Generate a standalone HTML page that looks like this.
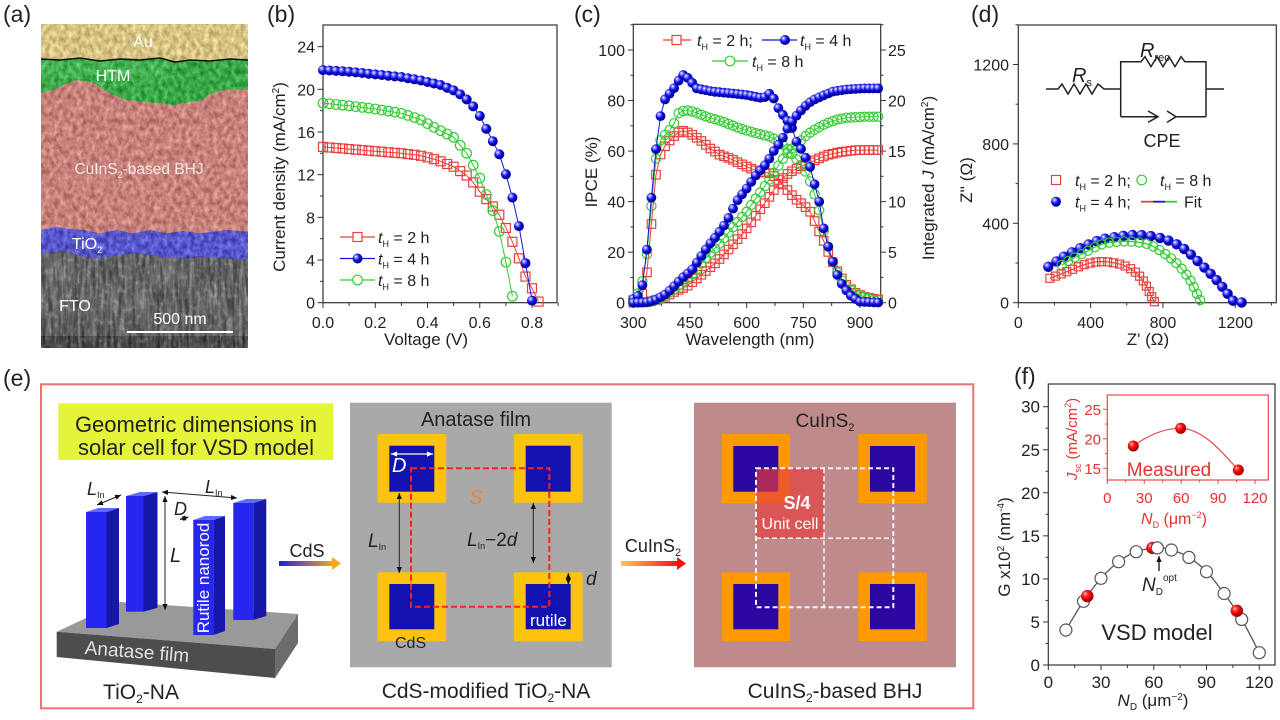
<!DOCTYPE html>
<html><head><meta charset="utf-8"><title>fig</title>
<style>
html,body{margin:0;padding:0;background:#fff;width:1280px;height:720px;overflow:hidden}
svg{display:block;font-family:"Liberation Sans",Arial,sans-serif}
</style></head><body>
<svg id="s" xmlns="http://www.w3.org/2000/svg" width="1280" height="720" viewBox="0 0 1280 720">
<defs>
<radialGradient id="gb" cx="0.4" cy="0.4" r="0.62" fx="0.33" fy="0.3">
<stop offset="0" stop-color="#ffffff"/><stop offset="0.22" stop-color="#8c8cff"/><stop offset="0.55" stop-color="#0a0ae6"/><stop offset="1" stop-color="#00007a"/>
</radialGradient>
<radialGradient id="grd" cx="0.4" cy="0.4" r="0.62" fx="0.33" fy="0.3">
<stop offset="0" stop-color="#ffd0d0"/><stop offset="0.25" stop-color="#ff4040"/><stop offset="0.6" stop-color="#e80000"/><stop offset="1" stop-color="#900000"/>
</radialGradient>
<linearGradient id="a1" x1="0" x2="1" y1="0" y2="0"><stop offset="0" stop-color="#2020e0"/><stop offset="1" stop-color="#f5a623"/></linearGradient>
<linearGradient id="a2" x1="0" x2="1" y1="0" y2="0"><stop offset="0" stop-color="#ffc84a"/><stop offset="1" stop-color="#ff1010"/></linearGradient>
<marker id="ah" viewBox="0 0 8 8" refX="8" refY="4" markerWidth="6" markerHeight="6" orient="auto-start-reverse" markerUnits="userSpaceOnUse"><path d="M0,0.5 L8,4 L0,7.5 z" fill="#111"/></marker>
<marker id="ahw" viewBox="0 0 8 8" refX="8" refY="4" markerWidth="6" markerHeight="6" orient="auto-start-reverse" markerUnits="userSpaceOnUse"><path d="M0,0.5 L8,4 L0,7.5 z" fill="#fff"/></marker>
<filter id="tex" filterUnits="userSpaceOnUse" x="41" y="24" width="207" height="324" color-interpolation-filters="sRGB">
<feTurbulence type="fractalNoise" baseFrequency="0.22 0.16" numOctaves="3" seed="7" result="n"/>
<feColorMatrix in="n" type="matrix" values="1 0 0 0 0 1 0 0 0 0 1 0 0 0 0 0 0 0 0 1" result="g"/>
<feComposite in="SourceGraphic" in2="g" operator="arithmetic" k1="0" k2="1" k3="0.45" k4="-0.22"/>
</filter>
<filter id="tex2" filterUnits="userSpaceOnUse" x="41" y="24" width="207" height="324" color-interpolation-filters="sRGB">
<feTurbulence type="fractalNoise" baseFrequency="0.28 0.035" numOctaves="3" seed="3" result="n"/>
<feColorMatrix in="n" type="matrix" values="1 0 0 0 0 1 0 0 0 0 1 0 0 0 0 0 0 0 0 1" result="g"/>
<feComposite in="SourceGraphic" in2="g" operator="arithmetic" k1="0" k2="1" k3="0.6" k4="-0.3"/>
</filter>
</defs>

<!-- panel labels -->
<g font-size="23" fill="#222">
<text x="3" y="22">(a)</text>
<text x="267" y="22">(b)</text>
<text x="574" y="22">(c)</text>
<text x="971" y="22">(d)</text>
<text x="3" y="386">(e)</text>
<text x="1014" y="384">(f)</text>
</g>

<!-- ============ (a) ============ -->
<g filter="url(#tex2)">
<rect x="41" y="24" width="207" height="324" fill="#7d7d7d"/>
<rect x="41" y="336" width="207" height="12" fill="#5a5a5a"/>
</g>
<g filter="url(#tex)">
<path d="M41,24 H248 V260 L227,258.3 L200,256.7 L183,258.3 L160,256.7 L140,253.3 L117,255 L100,258.3 L83,256.7 L67,251.7 L56,252 L41,253.3 Z" fill="#5656c8"/>
<path d="M41,24 H248 V231.7 L227,230 L200,233.3 L183,231 L167,233.3 L150,230 L133,233.3 L117,230 L100,233.3 L83,230 L70,229 L57,226.7 L41,230 Z" fill="#c5807a"/>
<path d="M41,24 H248 V90 L230,89.3 L217,91.7 L208,95 L203,100 L192,101.7 L182,103.3 L173,105 L160,103.3 L143,101.7 L127,100 L113,95 L100,86.7 L90,81.7 L77,80 L67,83.3 L57,88.3 L41,93.3 Z" fill="#36a646"/>
<path d="M41,60 L100,61 L170,62 L172,78 L150,82 L100,80 L60,78 L41,80 Z" fill="#4cb85a" opacity="0.6"/>
<path d="M41,24 H248 V60 L230,59 L210,61 L190,60 L175,62 L160,58 L140,60 L120,59 L100,61 L80,58 L60,60 L41,59 Z" fill="#d5c283"/>
</g>
<polyline points="41,59 60,60 80,58 100,61 120,59 140,60 160,58 175,62 190,60 210,61 230,59 248,60" fill="none" stroke="#111" stroke-width="1.6"/>
<g fill="#fff" font-size="16" text-anchor="middle">
<text x="143" y="47">Au</text>
<text x="113" y="81">HTM</text>
<text x="139" y="174" font-size="15.5" fill="#f8e8e6">CuInS<tspan font-size="9" dy="4">2</tspan><tspan dy="-4">-based BHJ</tspan></text>
<text x="87" y="249">TiO<tspan font-size="9" dy="4">2</tspan></text>
<text x="75" y="311">FTO</text>
<text x="180" y="324">500 nm</text>
</g>
<line x1="127" y1="332" x2="233" y2="332" stroke="#fff" stroke-width="2"/>

<!-- ============ (b) ============ -->
<rect x="323" y="25" width="234" height="277.7" fill="none" stroke="#333" stroke-width="1.2"/>
<text transform="rotate(-90 285 177)" x="285" y="177" font-size="17" fill="#222" text-anchor="middle">Current density (mA/cm<tspan font-size="10" dy="-6">2</tspan><tspan dy="6">)</tspan></text>
<text x="426" y="345" font-size="17" fill="#222" text-anchor="middle">Voltage (V)</text>
<g id="legb">
<line x1="340" y1="237" x2="375" y2="237" stroke="#e8403a" stroke-width="1.2"/>
<rect x="353" y="232.5" width="9" height="9" fill="#fff" stroke="#e8403a" stroke-width="1.2"/>
<line x1="340" y1="258.5" x2="375" y2="258.5" stroke="#1414e0" stroke-width="1.2"/>
<circle cx="357.5" cy="258.5" r="5" fill="url(#gb)"/>
<line x1="340" y1="280" x2="375" y2="280" stroke="#33cc33" stroke-width="1.2"/>
<circle cx="357.5" cy="280" r="4.8" fill="#fff" stroke="#33cc33" stroke-width="1.2"/>
<g font-size="16" fill="#222">
<text x="378" y="243"><tspan font-style="italic">t</tspan><tspan font-size="9" dy="4">H</tspan><tspan dy="-4"> = 2 h</tspan></text>
<text x="378" y="264.5"><tspan font-style="italic">t</tspan><tspan font-size="9" dy="4">H</tspan><tspan dy="-4"> = 4 h</tspan></text>
<text x="378" y="286"><tspan font-style="italic">t</tspan><tspan font-size="9" dy="4">H</tspan><tspan dy="-4"> = 8 h</tspan></text>
</g>
</g>

<!-- ============ (c) ============ -->
<rect x="633.3" y="24.3" width="247.4" height="278.4" fill="none" stroke="#333" stroke-width="1.2"/>
<text transform="rotate(-90 597 172)" x="597" y="172" font-size="17" fill="#222" text-anchor="middle">IPCE (%)</text>
<text transform="rotate(-90 934 178)" x="934" y="178" font-size="17" fill="#222" text-anchor="middle">Integrated <tspan font-style="italic">J</tspan> (mA/cm<tspan font-size="10" dy="-6">2</tspan><tspan dy="6">)</tspan></text>
<text x="750" y="345" font-size="17" fill="#222" text-anchor="middle">Wavelength (nm)</text>
<g>
<line x1="663" y1="40" x2="691" y2="40" stroke="#e8403a" stroke-width="1.2"/>
<rect x="672" y="35.5" width="9" height="9" fill="#fff" stroke="#e8403a" stroke-width="1.2"/>
<line x1="762" y1="40" x2="797" y2="40" stroke="#1414e0" stroke-width="1.2"/>
<circle cx="785" cy="40" r="5" fill="url(#gb)"/>
<line x1="712" y1="61" x2="748" y2="61" stroke="#33cc33" stroke-width="1.2"/>
<circle cx="730" cy="61" r="4.8" fill="#fff" stroke="#33cc33" stroke-width="1.2"/>
<g font-size="16" fill="#222">
<text x="697" y="46"><tspan font-style="italic">t</tspan><tspan font-size="9" dy="4">H</tspan><tspan dy="-4"> = 2 h;</tspan></text>
<text x="800" y="46"><tspan font-style="italic">t</tspan><tspan font-size="9" dy="4">H</tspan><tspan dy="-4"> = 4 h</tspan></text>
<text x="752" y="67"><tspan font-style="italic">t</tspan><tspan font-size="9" dy="4">H</tspan><tspan dy="-4"> = 8 h</tspan></text>
</g>
</g>

<!-- ============ (d) ============ -->
<rect x="1018.3" y="25" width="258" height="277.7" fill="none" stroke="#333" stroke-width="1.2"/>
<text transform="rotate(-90 972 180)" x="972" y="180" font-size="17" fill="#222" text-anchor="middle">Z'' (Ω)</text>
<text x="1148" y="345" font-size="17" fill="#222" text-anchor="middle">Z' (Ω)</text>
<g fill="none" stroke="#222" stroke-width="1.5">
<polyline points="1046,89 1058,89 1062,84 1068,94 1074,84 1080,94 1086,84 1092,94 1098,84 1104,89 1120.7,89"/>
<polyline points="1120.7,116.7 1120.7,61.7 1141,61.7 1145,56.7 1151,66.7 1157,56.7 1163,66.7 1169,56.7 1175,66.7 1181,56.7 1185,61.7 1206,61.7 1206,116.7"/>
<line x1="1206" y1="89" x2="1224" y2="89"/>
<polyline points="1120.7,116.7 1158,116.7"/>
<polyline points="1148,111 1158,116.7 1148,122.4"/>
<polyline points="1167,111 1176,116.7 1167,122.4"/>
<line x1="1176" y1="116.7" x2="1206" y2="116.7"/>
</g>
<text x="1072" y="82" font-size="20" fill="#222" font-style="italic">R<tspan font-size="11" dy="4" font-style="normal">s</tspan></text>
<text x="1140" y="57" font-size="20" fill="#222" font-style="italic">R<tspan font-size="11" dy="4" font-style="normal">rec</tspan></text>
<text x="1162" y="147" font-size="18" fill="#222" text-anchor="middle">CPE</text>
<g>
<rect x="1051.5" y="175.5" width="9" height="9" fill="#fff" stroke="#e8403a" stroke-width="1.2"/>
<circle cx="1141.7" cy="180" r="4.8" fill="#fff" stroke="#33cc33" stroke-width="1.2"/>
<circle cx="1056" cy="201.7" r="5" fill="url(#gb)"/>
<line x1="1141" y1="201.7" x2="1153" y2="201.7" stroke="#e8403a" stroke-width="1.8"/>
<line x1="1153" y1="201.7" x2="1165" y2="201.7" stroke="#1414e0" stroke-width="1.8"/>
<line x1="1165" y1="201.7" x2="1177" y2="201.7" stroke="#33cc33" stroke-width="1.8"/>
<g font-size="16" fill="#222">
<text x="1075" y="186"><tspan font-style="italic">t</tspan><tspan font-size="9" dy="4">H</tspan><tspan dy="-4"> = 2 h;</tspan></text>
<text x="1160" y="186"><tspan font-style="italic">t</tspan><tspan font-size="9" dy="4">H</tspan><tspan dy="-4"> = 8 h</tspan></text>
<text x="1075" y="207.7"><tspan font-style="italic">t</tspan><tspan font-size="9" dy="4">H</tspan><tspan dy="-4"> = 4 h;</tspan></text>
<text x="1184" y="207.7">Fit</text>
</g>
</g>

<!-- ============ (e) ============ -->
<rect x="41" y="384.3" width="932.3" height="324" fill="none" stroke="#f07070" stroke-width="2"/>
<rect x="58.3" y="403.3" width="275" height="56.7" fill="#e4f43a"/>
<g font-size="22" fill="#222" text-anchor="middle">
<text x="196" y="432">Geometric dimensions in</text>
<text x="196" y="455">solar cell for VSD model</text>
</g>
<!-- slab -->
<polygon points="56.7,631.7 120,602 298,614 275,649" fill="#999"/>
<polygon points="56.7,631.7 275,649 275,678 56.7,657" fill="#4d4d4d"/>
<polygon points="275,649 298,614 298,643 275,678" fill="#6c6c6c"/>
<text transform="rotate(4.5 137 652)" x="137" y="658" font-size="19" fill="#e2e2e2" text-anchor="middle">Anatase film</text>
<g id="rods"></g>
<text transform="rotate(-90 209 578)" x="209" y="578" font-size="17" fill="#fff" text-anchor="middle">Rutile nanorod</text>
<!-- annotations -->
<g stroke="#222" stroke-width="1" fill="none">
<line x1="97" y1="505" x2="121" y2="495" marker-start="url(#ah)" marker-end="url(#ah)"/>
<line x1="162" y1="492" x2="237" y2="498" marker-start="url(#ah)" marker-end="url(#ah)"/>
<line x1="165" y1="496" x2="165" y2="610" marker-start="url(#ah)" marker-end="url(#ah)"/>
<line x1="180" y1="519.5" x2="188.5" y2="517" marker-start="url(#ah)" marker-end="url(#ah)"/>
</g>
<g font-size="18" fill="#222" font-style="italic">
<text x="87" y="495">L<tspan font-size="9" dy="3" font-style="normal">In</tspan></text>
<text x="205" y="493">L<tspan font-size="9" dy="3" font-style="normal">In</tspan></text>
<text x="170" y="562" font-size="20">L</text>
<text x="174" y="515">D</text>
</g>
<text x="307" y="557" font-size="18" fill="#222" text-anchor="middle">CdS</text>
<rect x="279" y="561" width="54" height="5" fill="url(#a1)"/>
<polygon points="332,557 341,563.5 332,570" fill="#f5a623"/>
<text x="141" y="699" font-size="21" fill="#222" text-anchor="middle">TiO<tspan font-size="12" dy="4">2</tspan><tspan dy="-4">-NA</tspan></text>

<!-- middle -->
<rect x="350" y="402.7" width="261.7" height="264.6" fill="#a9a9a9"/>
<text x="476" y="426" font-size="20" fill="#222" text-anchor="middle">Anatase film</text>
<g fill="#ffc20e">
<rect x="377.7" y="434" width="68.5" height="68.7"/>
<rect x="514" y="434" width="68.5" height="68.7"/>
<rect x="377.7" y="572.3" width="68.5" height="68.7"/>
<rect x="514" y="572.3" width="68.5" height="68.7"/>
</g>
<g fill="#1212b0">
<rect x="389.3" y="445.7" width="45" height="46"/>
<rect x="525.7" y="445.7" width="45" height="46"/>
<rect x="389.3" y="584" width="45" height="45.3"/>
<rect x="525.7" y="584" width="45" height="45.3"/>
</g>
<rect x="411" y="468.3" width="138.3" height="138.4" fill="none" stroke="#ff2020" stroke-width="2" stroke-dasharray="6 3"/>
<line x1="391" y1="454" x2="433" y2="454" stroke="#fff" stroke-width="1.2" marker-start="url(#ahw)" marker-end="url(#ahw)"/>
<text x="392" y="472" font-size="20" fill="#fff" font-style="italic">D</text>
<text x="476" y="504" font-size="20" fill="#f08040" font-style="italic" text-anchor="middle">S</text>
<line x1="399.3" y1="493" x2="399.3" y2="573" stroke="#222" stroke-width="1" marker-start="url(#ah)" marker-end="url(#ah)"/>
<line x1="533.3" y1="503" x2="533.3" y2="563" stroke="#222" stroke-width="1" marker-start="url(#ah)" marker-end="url(#ah)"/>
<line x1="568.3" y1="573" x2="568.3" y2="584.5" stroke="#222" stroke-width="1" marker-start="url(#ah)" marker-end="url(#ah)"/>
<g font-size="19" fill="#222">
<text x="368" y="547" font-style="italic">L<tspan font-size="9" dy="3" font-style="normal">In</tspan></text>
<text x="467" y="546"><tspan font-style="italic">L</tspan><tspan font-size="9" dy="3">In</tspan><tspan dy="-3">−2</tspan><tspan font-style="italic">d</tspan></text>
<text x="586" y="585" font-style="italic">d</text>
</g>
<text x="530" y="626" font-size="17" fill="#fff">rutile</text>
<text x="395" y="648" font-size="16" fill="#222">CdS</text>
<text x="486" y="698" font-size="21" fill="#222" text-anchor="middle">CdS-modified TiO<tspan font-size="12" dy="4">2</tspan><tspan dy="-4">-NA</tspan></text>
<text x="653" y="552" font-size="18" fill="#222" text-anchor="middle">CuInS<tspan font-size="11" dy="4">2</tspan></text>
<rect x="621" y="561" width="57" height="5" fill="url(#a2)"/>
<polygon points="677,557 686,563.5 677,570" fill="#ff1010"/>

<!-- right -->
<rect x="694" y="402.7" width="262" height="264.6" fill="#bf8a8a"/>
<text x="825" y="427" font-size="19" fill="#222" text-anchor="middle">CuInS<tspan font-size="11" dy="4">2</tspan></text>
<g fill="#ff9900">
<rect x="721.7" y="434" width="68.3" height="69.3"/>
<rect x="858.3" y="434" width="68.4" height="69.3"/>
<rect x="721.7" y="572.3" width="68.3" height="68.7"/>
<rect x="858.3" y="572.3" width="68.4" height="68.7"/>
</g>
<g fill="#2c06a0">
<rect x="733.3" y="446" width="45" height="45.7"/>
<rect x="870" y="446" width="45" height="45.7"/>
<rect x="733.3" y="584" width="45" height="45.3"/>
<rect x="870" y="584" width="45" height="45.3"/>
</g>
<rect x="756" y="468.3" width="68" height="70" fill="#e83c3c" fill-opacity="0.68"/>
<g fill="none" stroke="#f4f0ff" stroke-dasharray="5 3">
<rect x="756" y="468.3" width="137.3" height="139" stroke-width="2"/>
<line x1="824" y1="468.3" x2="824" y2="607.3" stroke-width="1.5"/>
<line x1="756" y1="538.3" x2="893.3" y2="538.3" stroke-width="1.5"/>
</g>
<text x="797" y="509" font-size="18" font-weight="bold" fill="#fff" text-anchor="middle">S/4</text>
<text x="790" y="529" font-size="16" fill="#fff" text-anchor="middle">Unit cell</text>
<text x="835" y="698" font-size="21" fill="#222" text-anchor="middle">CuInS<tspan font-size="12" dy="4">2</tspan><tspan dy="-4">-based BHJ</tspan></text>

<!-- ============ (f) ============ -->
<rect x="1048.3" y="384" width="226.7" height="281" fill="none" stroke="#333" stroke-width="1.2"/>
<text transform="rotate(-90 1010 547)" x="1010" y="547" font-size="17" fill="#222" text-anchor="middle">G x10<tspan font-size="10" dy="-6">2</tspan><tspan dy="6"> (nm</tspan><tspan font-size="10" dy="-6">-4</tspan><tspan dy="6">)</tspan></text>
<text x="1153" y="706" font-size="17" fill="#222" text-anchor="middle"><tspan font-style="italic">N</tspan><tspan font-size="10" dy="4">D</tspan><tspan dy="-4"> (μm</tspan><tspan font-size="10" dy="-6">−2</tspan><tspan dy="6">)</tspan></text>
<text x="1157" y="640" font-size="22" fill="#222" text-anchor="middle">VSD model</text>
<line x1="1159" y1="571" x2="1159" y2="556" stroke="#111" stroke-width="1.3" marker-end="url(#ah)"/>
<text x="1142" y="591" font-size="19" fill="#222"><tspan font-style="italic">N</tspan><tspan font-size="10" dy="4">D</tspan><tspan font-size="10" dy="-14">opt</tspan></text>
<!-- inset -->
<rect x="1107.3" y="395" width="161" height="85" fill="#fff" stroke="#e84848" stroke-width="1.2"/>
<text transform="rotate(-90 1077 439)" x="1077" y="439" font-size="15" fill="#e83030" text-anchor="middle"><tspan font-style="italic">J</tspan><tspan font-size="9" dy="4">sc</tspan><tspan dy="-4"> (mA/cm</tspan><tspan font-size="9" dy="-6">2</tspan><tspan dy="6">)</tspan></text>
<text x="1174" y="524" font-size="16" fill="#e83030" text-anchor="middle"><tspan font-style="italic">N</tspan><tspan font-size="9" dy="4">D</tspan><tspan dy="-4"> (μm</tspan><tspan font-size="9" dy="-6">−2</tspan><tspan dy="6">)</tspan></text>
<text x="1169" y="476" font-size="19" fill="#e83030" text-anchor="middle">Measured</text>
<path d="M1133.3,446 C1150,434 1165,428 1180.7,428.3 C1205,429 1225,456 1238.3,470" fill="none" stroke="#e84848" stroke-width="1.2"/>
<circle cx="1133.3" cy="446" r="5.5" fill="url(#grd)"/>
<circle cx="1180.7" cy="428.3" r="5.5" fill="url(#grd)"/>
<circle cx="1238.3" cy="470" r="5.5" fill="url(#grd)"/>
</svg>
<script>
(function(){
const S=document.getElementById('s');
const NS='http://www.w3.org/2000/svg';
function E(t,a,p){const e=document.createElementNS(NS,t);for(const k in a)e.setAttribute(k,a[k]);(p||S).appendChild(e);return e;}
function lin(tb,x){if(x<=tb[0][0])return tb[0][1];for(let i=1;i<tb.length;i++){if(x<=tb[i][0]){const a=tb[i-1],b=tb[i];return a[1]+(b[1]-a[1])*(x-a[0])/(b[0]-a[0]);}}return tb[tb.length-1][1];}
function poly(pts,col,w,g){E('polyline',{points:pts.map(p=>p[0].toFixed(1)+','+p[1].toFixed(1)).join(' '),fill:'none',stroke:col,'stroke-width':w||1},g);}
function sq(x,y,c,s,g){s=s||9;E('rect',{x:(x-s/2).toFixed(1),y:(y-s/2).toFixed(1),width:s,height:s,fill:'none',stroke:c,'stroke-width':1.2},g);}
function oc(x,y,c,r,g,f){E('circle',{cx:x.toFixed(1),cy:y.toFixed(1),r:r||4.8,fill:f||'none',stroke:c,'stroke-width':1.2},g);}
function ball(x,y,r,gr,g){E('circle',{cx:x.toFixed(1),cy:y.toFixed(1),r:r||5,fill:'url(#'+(gr||'gb')+')'},g);}
function ln(x1,y1,x2,y2,c,w){E('line',{x1,y1,x2,y2,stroke:c||'#333','stroke-width':w||1});}
function tx(x,y,s,o){const t=E('text',Object.assign({x,y,'font-size':16,fill:'#222'},o||{}));t.textContent=s;return t;}
const RED='#e8403a',BLU='#1414e0',GRN='#33cc33';

/* ---------- (b) ---------- */
const bx=v=>323+v*261.25, by=j=>302.7-j*10.67;
for(let j=0;j<=24;j+=4){ln(317.5,by(j),323,by(j));tx(315,by(j)+6,String(j),{'text-anchor':'end'});}
for(let j=2;j<=22;j+=4){ln(320,by(j),323,by(j));}
for(let i=0;i<=4;i++){const v=i*0.2;ln(bx(v),302.7,bx(v),308);tx(bx(v),328,v.toFixed(1),{'text-anchor':'middle'});}
for(let v=0.1;v<0.9;v+=0.2){ln(bx(v),302.7,bx(v),306);}
const JVr=[[0,14.6],[0.1,14.4],[0.2,14.2],[0.3,14.0],[0.37,13.8],[0.435,13.4],[0.5,12.75],[0.563,11.7],[0.6,10.4],[0.64,9.3],[0.672,8.4],[0.71,6.5],[0.742,4.8],[0.767,2.8],[0.8,1.35],[0.825,0.1]];
const JVg=[[0,18.7],[0.1,18.45],[0.2,18.15],[0.3,17.75],[0.37,17.2],[0.435,16.3],[0.5,15.5],[0.55,14.0],[0.595,12.0],[0.615,10.7],[0.64,9.3],[0.665,7.6],[0.69,5.3],[0.706,2.9],[0.73,0]];
const JVb=[[0,21.8],[0.1,21.65],[0.2,21.4],[0.3,21.15],[0.37,20.85],[0.45,20.4],[0.5,19.9],[0.54,19.3],[0.575,18.4],[0.6,17.5],[0.633,15.9],[0.662,14.6],[0.69,13.1],[0.706,11.4],[0.733,9.2],[0.754,6.7],[0.775,3.7],[0.8,0.2]];
function jv(tb,vend){const p=[];for(let k=0;k*0.025<=vend+1e-6;k++){const v=k*0.025;p.push([bx(v),by(lin(tb,v))]);}return p;}
const pr=jv(JVr,0.825),pg=jv(JVg,0.725),pb=jv(JVb,0.8);
poly(pr,RED);pr.forEach(p=>sq(p[0],p[1],RED));
poly(pb,BLU);pb.forEach(p=>ball(p[0],p[1],5));
poly(pg,GRN);pg.forEach(p=>oc(p[0],p[1],GRN));
S.appendChild(document.getElementById('legb'));

/* ---------- (c) ---------- */
const cx=l=>633.3+(l-300)*0.3778, cy=p=>302.7-p*2.527;
for(let p=0;p<=100;p+=20){ln(628,cy(p),633.3,cy(p));tx(625,cy(p)+6,String(p),{'text-anchor':'end'});ln(880.7,cy(p),886,cy(p));tx(888,cy(p)+6,String(p/4));}
for(let p=10;p<=110;p+=20){ln(630.5,cy(p),633.3,cy(p));ln(880.7,cy(p),883.5,cy(p));}
for(let l=300;l<=900;l+=150){ln(cx(l),302.7,cx(l),308);tx(cx(l),328,String(l),{'text-anchor':'middle'});}
for(let l=375;l<=950;l+=150){ln(cx(l),302.7,cx(l),306);}
const Ib=[[300,1.5],[320,3.5],[331,12.9],[340,27.5],[349,43.3],[358,58],[366,69],[379,79.5],[397,82.9],[415,86.2],[428,90.5],[446,88.8],[468,84.8],[512,83.5],[556,82.9],[600,82.2],[644,80.9],[662,82.9],[675,80.2],[688,75.6],[701,73.6],[719,69.6],[732,63.7],[746,60.4],[759,56.5],[772,52.5],[785,43.3],[799,36.7],[803,30],[816,22.2],[825,17.6],[838,11.6],[856,6.3],[878,2.4],[900,0.4],[960,0]];
const Ig=[[300,1],[318,5],[330,12],[340,24],[349,40],[358,55],[366,63],[379,65.7],[393,67.7],[406,70.3],[419,74.9],[437,76.3],[459,75.6],[494,73.6],[538,71.6],[582,69],[627,67],[662,65.7],[688,63.7],[706,61.1],[723,58.4],[741,55.2],[759,51.2],[772,46.6],[785,40.6],[794,35.4],[803,28.8],[816,22.2],[829,15.6],[847,9.7],[865,6.3],[887,3.7],[909,2.4],[935,1.1],[960,0.8]];
const Ir=[[300,1],[320,2],[330,6],[340,16],[349,33],[357,48.5],[371,58.4],[388,63],[406,65.7],[428,68.3],[450,67],[477,64.4],[503,61.1],[530,58.4],[556,57.1],[582,55.2],[609,53.2],[635,51.8],[662,51.2],[680,49.2],[697,46.6],[715,43.3],[733,40.6],[750,38.7],[768,36],[781,32],[794,27.5],[807,23.5],[821,18.2],[838,12.9],[860,7.7],[882,4.4],[909,2.4],[944,1.3],[960,1.1]];
const Jb=[[300,0],[340,0.05],[360,0.3],[388,0.9],[415,1.9],[428,2.4],[454,3.2],[476,4.4],[498,5.6],[522,6.7],[547,8],[573,10],[600,11.3],[622,12.5],[653,13.8],[670,14.9],[693,16.1],[706,17.1],[723,18.1],[741,18.9],[759,19.6],[776,20.05],[803,20.5],[829,20.9],[865,21.1],[909,21.2],[960,21.2]];
const Jg=[[300,0],[340,0.05],[370,0.4],[406,1.25],[432,2.1],[459,2.9],[481,3.9],[503,4.9],[525,5.7],[547,6.7],[574,7.9],[600,9],[622,10.2],[644,11.3],[671,12.8],[693,14.1],[715,15.1],[737,15.8],[759,16.6],[786,17.25],[812,17.75],[838,18.1],[865,18.3],[909,18.4],[960,18.4]];
const Jr=[[300,0],[340,0.05],[380,0.5],[415,1.2],[441,1.6],[468,2.4],[494,3.2],[521,4.05],[547,5.05],[569,6],[591,6.9],[613,8],[635,9.2],[657,10.3],[680,11.6],[702,12.6],[724,13.1],[750,13.6],[781,14.1],[812,14.6],[847,14.9],[891,15.1],[960,15.1]];
const lams=[];for(let l=300;l<=950;l+=12)lams.push(l);
function cp(tb,s){return lams.map(l=>[cx(l),cy(lin(tb,l)*s)]);}
const cIr=cp(Ir,1),cJr=cp(Jr,4),cIg=cp(Ig,1),cJg=cp(Jg,4),cIb=cp(Ib,1),cJb=cp(Jb,4);
[cIr,cJr].forEach(a=>{poly(a,RED);a.forEach(p=>sq(p[0],p[1],RED,8.5));});
[cIg,cJg].forEach(a=>{poly(a,GRN);a.forEach(p=>oc(p[0],p[1],GRN,4.6));});
[cIb,cJb].forEach(a=>{poly(a,BLU);a.forEach(p=>ball(p[0],p[1],4.9));});

/* ---------- (d) ---------- */
const dx=z=>1018.3+z*0.1808, dy=z=>302.7-z*0.1985;
for(let z=0;z<=1200;z+=400){ln(1013,dy(z),1018.3,dy(z));tx(1009,dy(z)+6,String(z),{'text-anchor':'end'});ln(dx(z),302.7,dx(z),308);tx(dx(z),328,String(z),{'text-anchor':'middle'});}
for(let z=200;z<=1400;z+=400){ln(1015.5,dy(z),1018.3,dy(z));ln(dx(z),302.7,dx(z),305.5);}
function cr(pts,n){const out=[];for(let i=0;i<pts.length-1;i++){const p0=pts[i-1]||pts[i],p1=pts[i],p2=pts[i+1],p3=pts[i+2]||pts[i+1];for(let k=0;k<n;k++){const t=k/n,t2=t*t,t3=t2*t;const f=(a,b,c,d)=>0.5*((2*b)+(-a+c)*t+(2*a-5*b+4*c-d)*t2+(-a+3*b-3*c+d)*t3);out.push([f(p0[0],p1[0],p2[0],p3[0]),f(p0[1],p1[1],p2[1],p3[1])]);}}out.push(pts[pts.length-1]);return out;}
function arcMarks(dense,sp){const m=[dense[0]];let acc=0;for(let i=1;i<dense.length;i++){const d=Math.hypot(dense[i][0]-dense[i-1][0],dense[i][1]-dense[i-1][1]);acc+=d;if(acc>=sp){m.push(dense[i]);acc=0;}}return m;}
const Dr=[[175,123],[268,156],[360,190],[452,207],[544,198],[618,173],[673,131],[710,81],[738,30],[752,6],[760,0]];
const Dg=[[240,190],[300,222],[360,249],[452,291],[544,307],[636,307],[728,291],[821,240],[894,181],[950,114],[987,47],[1005,14],[1018,0]];
const Db=[[166,181],[268,240],[360,282],[452,316],[544,332],[636,341],[728,336],[821,316],[913,274],[1005,198],[1097,114],[1140,65],[1172,28],[1192,8],[1240,1]];
function nyq(ctrl,col,type,sp){const px=ctrl.map(p=>[dx(p[0]),dy(p[1])]);const dense=cr(px,20);poly(dense,col,1.2);const m=arcMarks(dense,sp);m.forEach(p=>{if(type==='s')sq(p[0],p[1],col,8);else if(type==='o')oc(p[0],p[1],col,4.6);else ball(p[0],p[1],5.2);});}
nyq(Db,BLU,'b',8.6);
nyq(Dg,GRN,'o',7);
nyq(Dr,RED,'s',5.5);

/* ---------- (e) rods ---------- */
const R=document.getElementById('rods');
function rod(x,top,bot,w,sd,sdy){
 E('polygon',{points:`${x+w},${top} ${x+w+sd},${top-sdy} ${x+w+sd},${bot-sdy} ${x+w},${bot}`,fill:'#1616a8'},R);
 E('rect',{x,y:top,width:w,height:bot-top,fill:'#2626f0'},R);
 E('polygon',{points:`${x},${top} ${x+sd},${top-sdy} ${x+w+sd},${top-sdy} ${x+w},${top}`,fill:'#5b6cff'},R);
}
rod(126,496,611.7,17.5,14,4);
rod(233.3,503,620,20,13,4);
rod(86,512,628,20.5,12.5,4);
rod(193.3,520,635,20,11.7,4);

/* ---------- (f) ---------- */
const fx=n=>1048.3+n*1.758, fy=g=>665-g*8.61;
for(let g=0;g<=30;g+=5){ln(1043,fy(g),1048.3,fy(g));tx(1040,fy(g)+6,String(g),{'text-anchor':'end','font-size':17});}
for(let g=2.5;g<=30;g+=5){ln(1045.5,fy(g),1048.3,fy(g));}
for(let n=0;n<=120;n+=30){ln(fx(n),665,fx(n),670);tx(fx(n),688,String(n),{'text-anchor':'middle','font-size':17});}
for(let n=15;n<=120;n+=30){ln(fx(n),665,fx(n),668);}
const G=[[10,4.07],[20,7.4],[30,10.07],[40,12.0],[50,13.16],[62,13.6],[70,13.36],[80,12.5],[90,10.84],[100,8.3],[110,5.3],[120,1.43]];
const Gp=G.map(p=>[fx(p[0]),fy(p[1])]);
poly(cr(Gp,12),'#555',1.3);
ball(fx(59.2),fy(13.6),6.2,'grd');
Gp.forEach(p=>oc(p[0],p[1],'#555',6,null,'#fff'));
ball(fx(22.2),fy(8.0),6.2,'grd');
ball(fx(107.2),fy(6.3),6.2,'grd');
const ix=n=>1107.3+n*1.231, iy=j=>468.3-(j-15)*5.9;
const IC='#e84848';
for(let j=15;j<=25;j+=5){ln(1103,iy(j),1107.3,iy(j),IC);tx(1101,iy(j)+5.5,String(j),{'text-anchor':'end','font-size':15,fill:'#e83030'});}
for(let j=17.5;j<=25;j+=5){ln(1105,iy(j),1107.3,iy(j),IC);}
for(let n=0;n<=120;n+=30){ln(ix(n),480,ix(n),484,IC);tx(ix(n),503,String(n),{'text-anchor':'middle','font-size':15,fill:'#e83030'});}
for(let n=15;n<=120;n+=30){ln(ix(n),480,ix(n),482.5,IC);}
})();
</script>
</body></html>
